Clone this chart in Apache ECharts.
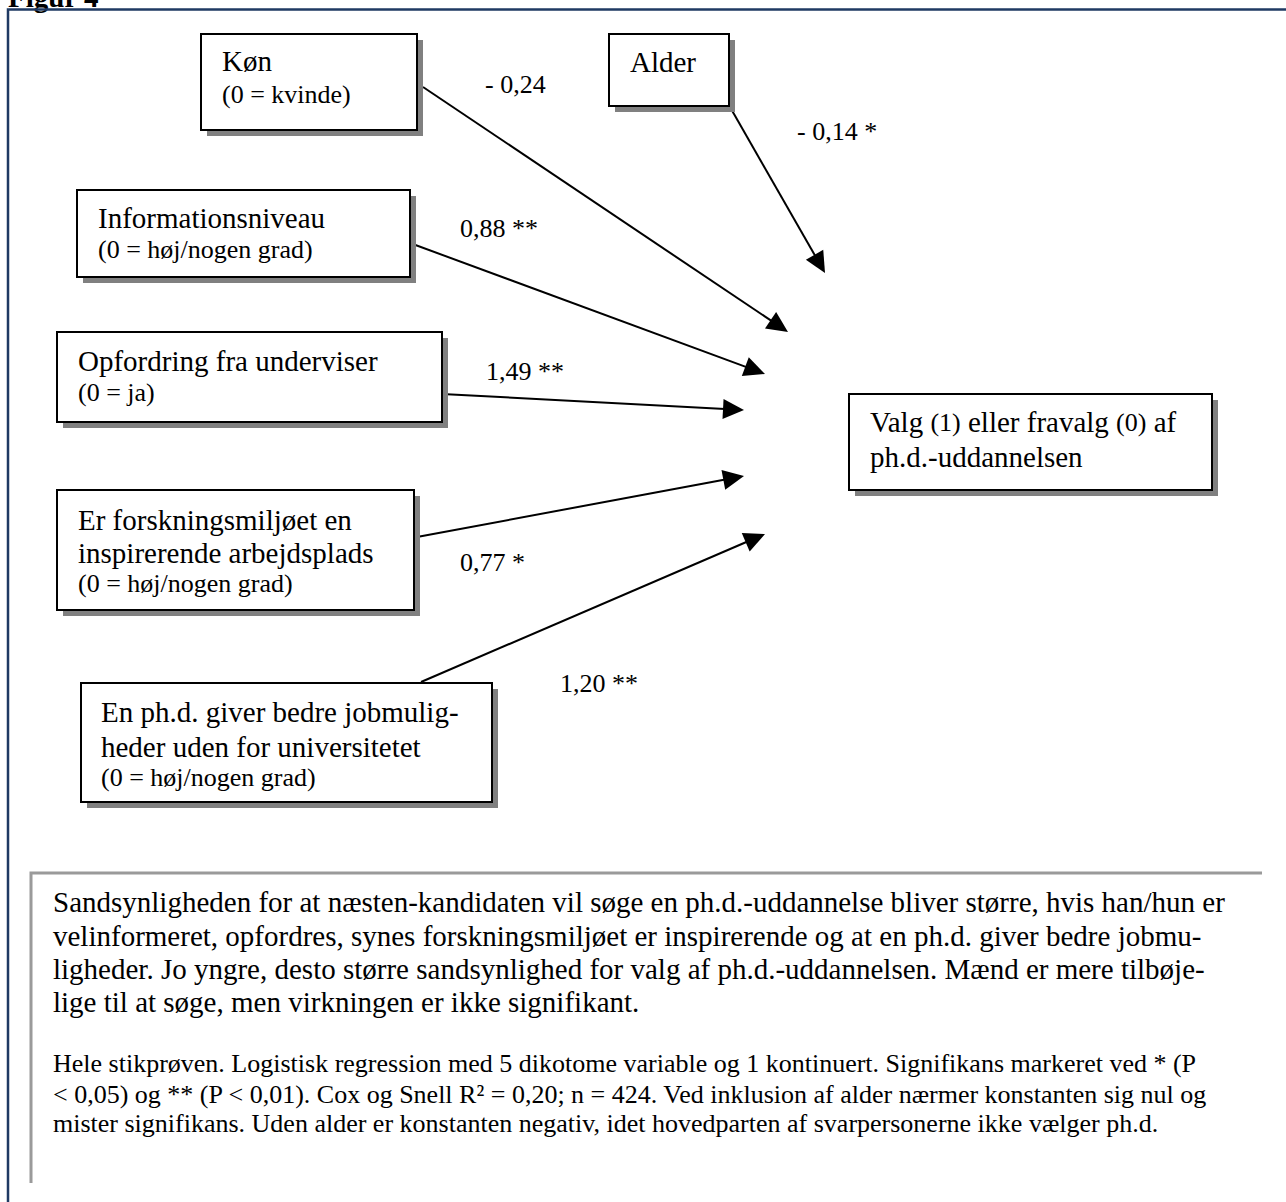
<!DOCTYPE html>
<html>
<head>
<meta charset="utf-8">
<script src="https://cdn.jsdelivr.net/npm/echarts@6/dist/echarts.min.js"></script>
<style>
html,body{margin:0;padding:0;background:#fff;}
#chart{width:1286px;height:1202px;}
</style>
</head>
<body>
<div id="chart"></div>
<script>
// ---------- data ----------
const figureTitle = 'Figur 4';
const variableNames = [
  'Køn',
  'Alder',
  'Informationsniveau',
  'Opfordring fra underviser',
  'Er forskningsmiljøet en\ninspirerende arbejdsplads',
  'En ph.d. giver bedre jobmulig-\nheder uden for universitetet'
];
const variableCoding = ['(0 = kvinde)', '', '(0 = høj/nogen grad)', '(0 = ja)', '(0 = høj/nogen grad)', '(0 = høj/nogen grad)'];
const outcomeName = 'Valg {s|(1)} eller fravalg {s|(0)} af\nph.d.-uddannelsen';
const coefficients = [-0.24, -0.14, 0.88, 1.49, 0.77, 1.20];
const significance = ['', '*', '**', '**', '*', '**'];
const summaryLines = [
  'Sandsynligheden for at næsten-kandidaten vil søge en ph.d.-uddannelse bliver større, hvis han/hun er',
  'velinformeret, opfordres, synes forskningsmiljøet er inspirerende og at en ph.d. giver bedre jobmu-',
  'ligheder. Jo yngre, desto større sandsynlighed for valg af ph.d.-uddannelsen. Mænd er mere tilbøje-',
  'lige til at søge, men virkningen er ikke signifikant.'
];
const noteLines = [
  'Hele stikprøven. Logistisk regression med 5 dikotome variable og 1 kontinuert. Signifikans markeret ved * (P',
  '< 0,05) og ** (P < 0,01). Cox og Snell R² = 0,20; n = 424. Ved inklusion af alder nærmer konstanten sig nul og',
  'mister signifikans. Uden alder er konstanten negativ, idet hovedparten af svarpersonerne ikke vælger ph.d.'
];

// ---------- layout (pixels of the 1286 x 1202 page) ----------
const boxLayout = [
  [201, 34, 417, 130],
  [609, 34, 729, 106],
  [77, 190, 410, 277],
  [57, 332, 442, 422],
  [57, 490, 414, 610],
  [81, 683, 492, 802],
  [849, 394, 1212, 490]
];
const boxTextLayout = [
  {x: 222, base: [71, 103]},
  {x: 630, base: [72]},
  {x: 98, base: [228, 258]},
  {x: 78, base: [371, 401]},
  {x: 78, base: [530, 563, 592]},
  {x: 101, base: [722, 757, 786]},
  {x: 870, base: [432, 467]}
];
const arrowLayout = [
  [423, 87, 788, 332],
  [730, 107, 825, 273],
  [410, 243, 765, 374],
  [442, 394, 744, 410],
  [417, 537, 744, 476],
  [421, 682, 765, 534]
];
const labelLayout = [[485, 93], [797, 140], [460, 237], [486, 380], [460, 571], [560, 692]];

const FONT = "'Liberation Serif','Times New Roman',serif";
const BIG = 29, SMALL = 26, NOTE = 26;
function mid(base, size) { return base - 0.34 * size; }

function fmtCoef(v, sig) {
  const s = (v < 0 ? '- ' : '') + Math.abs(v).toFixed(2).replace('.', ',');
  return sig ? s + ' ' + sig : s;
}

const boxTexts = variableNames.map((n, i) => ({lines: n.split('\n'), coding: variableCoding[i]}));
boxTexts.push({lines: outcomeName.split('\n'), coding: ''});

const chart = echarts.init(document.getElementById('chart'), null, {renderer: 'svg'});

function renderBox(params, api) {
  const i = params.dataIndex;
  const b = boxLayout[i];
  const p1 = api.coord([b[0], b[1]]);
  const p2 = api.coord([b[2], b[3]]);
  const x = Math.min(p1[0], p2[0]), y = Math.min(p1[1], p2[1]);
  const w = Math.abs(p2[0] - p1[0]), h = Math.abs(p2[1] - p1[1]);
  const children = [
    {type: 'rect', shape: {x: x + 6, y: y + 6, width: w, height: h}, style: {fill: '#808080'}},
    {type: 'rect', shape: {x: x, y: y, width: w, height: h}, style: {fill: '#ffffff', stroke: '#000000', lineWidth: 2}}
  ];
  const t = boxTexts[i];
  const tl = boxTextLayout[i];
  const all = t.lines.map(l => ({text: l, size: BIG}));
  if (t.coding) all.push({text: t.coding, size: SMALL});
  all.forEach((ln, k) => {
    const pos = api.coord([tl.x, mid(tl.base[k], ln.size)]);
    children.push({
      type: 'text', x: pos[0], y: pos[1],
      style: {
        text: ln.text, fontFamily: FONT, fontSize: ln.size, fill: '#000',
        align: 'left', verticalAlign: 'middle',
        rich: {s: {fontFamily: FONT, fontSize: SMALL, fill: '#000'}}
      }
    });
  });
  return {type: 'group', children: children};
}

function renderArrow(params, api) {
  const a = arrowLayout[params.dataIndex];
  const s = api.coord([a[0], a[1]]);
  const t = api.coord([a[2], a[3]]);
  const dx = t[0] - s[0], dy = t[1] - s[1];
  const len = Math.hypot(dx, dy), ux = dx / len, uy = dy / len;
  const L = 21, W = 10;
  const bx = t[0] - ux * L, by = t[1] - uy * L;
  return {
    type: 'group',
    children: [
      {type: 'line', shape: {x1: s[0], y1: s[1], x2: bx + ux * 2, y2: by + uy * 2}, style: {stroke: '#000', lineWidth: 2}},
      {type: 'polygon', shape: {points: [[t[0], t[1]], [bx - uy * W, by + ux * W], [bx + uy * W, by - ux * W]]}, style: {fill: '#000'}}
    ]
  };
}

function renderLabel(params, api) {
  const i = params.dataIndex;
  const l = labelLayout[i];
  const pos = api.coord([l[0], mid(l[1], NOTE)]);
  return {
    type: 'text', x: pos[0], y: pos[1],
    style: {text: fmtCoef(coefficients[i], significance[i]), fontFamily: FONT, fontSize: NOTE, fill: '#000', align: 'left', verticalAlign: 'middle'}
  };
}

const graphics = [
  {type: 'text', x: 8, y: mid(7, 29), style: {text: figureTitle, fontFamily: FONT, fontSize: 29, fontWeight: 'bold', fill: '#000', verticalAlign: 'middle'}},
  {type: 'polyline', shape: {points: [[8, 1202], [8, 9.5], [1286, 9.5]]}, style: {stroke: '#1F3A63', lineWidth: 2.5, fill: null}},
  {type: 'polyline', shape: {points: [[31, 1183], [31, 873], [1262, 873]]}, style: {stroke: '#9a9a9a', lineWidth: 3, fill: null}}
];
const summaryBase = [912, 946, 979, 1012];
const noteBase = [1072, 1103, 1132];
summaryLines.forEach((t, k) => graphics.push({
  type: 'text', x: 53, y: mid(summaryBase[k], BIG),
  style: {text: t, fontFamily: FONT, fontSize: BIG, fill: '#000', verticalAlign: 'middle'}
}));
noteLines.forEach((t, k) => graphics.push({
  type: 'text', x: 53, y: mid(noteBase[k], NOTE),
  style: {text: t, fontFamily: FONT, fontSize: NOTE, fill: '#000', verticalAlign: 'middle'}
}));

chart.setOption({
  animation: false,
  backgroundColor: '#ffffff',
  grid: {left: 0, right: 0, top: 0, bottom: 0, containLabel: false},
  xAxis: {type: 'value', min: 0, max: 1286, show: false},
  yAxis: {type: 'value', min: 0, max: 1202, inverse: true, show: false},
  graphic: graphics,
  series: [
    {type: 'custom', name: 'arrows', clip: false, renderItem: renderArrow,
      data: coefficients.map((v, i) => [arrowLayout[i][2], arrowLayout[i][3], v]), z: 2},
    {type: 'custom', name: 'coefficients', clip: false, renderItem: renderLabel,
      data: coefficients.map((v, i) => [labelLayout[i][0], labelLayout[i][1], v]), z: 3},
    {type: 'custom', name: 'variables', clip: false, renderItem: renderBox,
      data: boxTexts.map((t, i) => [boxLayout[i][0], boxLayout[i][1]]), z: 4}
  ]
});
</script>
</body>
</html>
